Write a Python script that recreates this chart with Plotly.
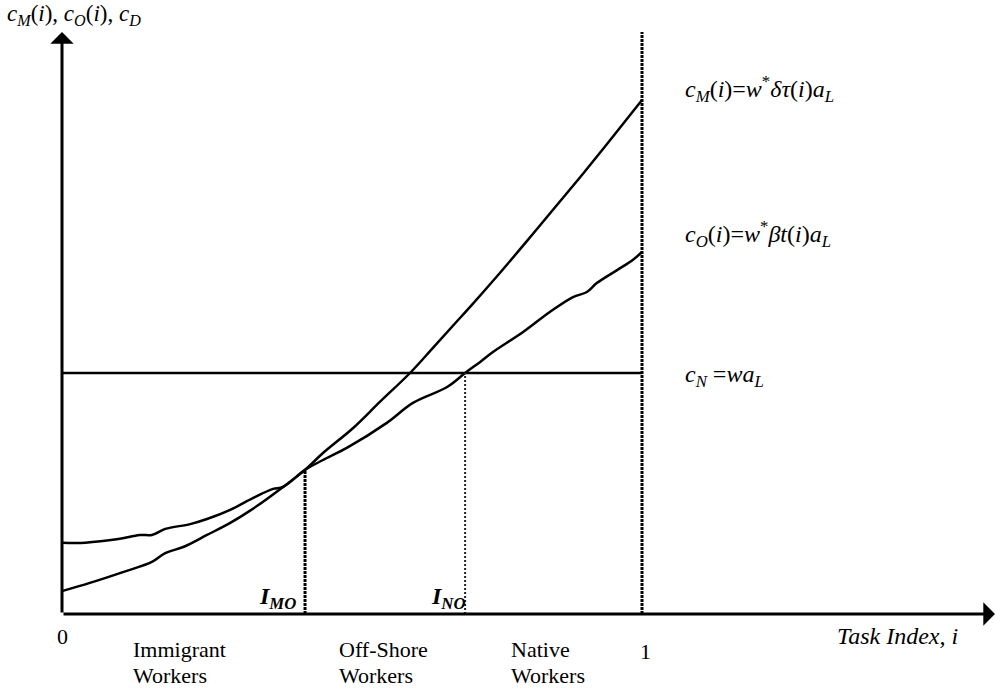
import plotly.graph_objects as go

# ---------------- data (task index i in [0,1], cost in units of c_N) ----------------
m_x = [0.0, 0.048, 0.105, 0.155, 0.178, 0.209, 0.25, 0.29, 0.336, 0.381, 0.419, 0.45,
       0.502, 0.548, 0.6, 0.638, 0.674, 0.709, 0.747, 0.8, 0.853, 0.9, 0.95, 1.0]
m_y = [0.095, 0.129, 0.174, 0.216, 0.253, 0.278, 0.328, 0.378, 0.448, 0.527, 0.598, 0.668,
       0.772, 0.880, 1.0, 1.100, 1.196, 1.289, 1.393, 1.543, 1.696, 1.832, 1.981, 2.133]

o_x = [0.0, 0.040, 0.097, 0.134, 0.155, 0.178, 0.221, 0.25, 0.29, 0.329, 0.364, 0.381,
       0.419, 0.45, 0.491, 0.56, 0.605, 0.664, 0.695, 0.721, 0.743, 0.795, 0.841, 0.881,
       0.905, 0.922, 0.957, 0.984, 1.0]
o_y = [0.296, 0.296, 0.311, 0.328, 0.328, 0.353, 0.373, 0.394, 0.432, 0.481, 0.519, 0.527,
       0.598, 0.639, 0.689, 0.793, 0.876, 0.942, 1.0, 1.046, 1.087, 1.170, 1.253, 1.315,
       1.336, 1.373, 1.427, 1.469, 1.502]

c_n = 1.0
i_mo = 0.419
c_mo = 0.598
i_no = 0.695
x_end = 1.0
x_axis_max = 1.6086
y_axis_max = 2.415

# ---------------- figure ----------------
W, H = 995, 696
X_RANGE = [-0.1069, 1.6086]
Y_RANGE = [-0.3402, 2.5477]
FONT = "Liberation Serif, Times New Roman, DejaVu Serif, serif"

fig = go.Figure()

line_black = dict(color="black", width=2.5)
fig.add_trace(go.Scatter(x=m_x, y=m_y, mode="lines", line=line_black, line_shape="spline",
                         hoverinfo="skip"))
fig.add_trace(go.Scatter(x=o_x, y=o_y, mode="lines", line=line_black, line_shape="spline",
                         hoverinfo="skip"))
fig.add_trace(go.Scatter(x=[0, x_end], y=[c_n, c_n], mode="lines", line=line_black,
                         hoverinfo="skip"))

# vertical dotted lines
fig.add_trace(go.Scatter(x=[i_mo, i_mo], y=[0, c_mo], mode="lines",
                         line=dict(color="black", width=3, dash="3px,1px"), hoverinfo="skip"))
fig.add_trace(go.Scatter(x=[i_no, i_no], y=[0, c_n], mode="lines",
                         line=dict(color="#222", width=2, dash="2px,2px"), hoverinfo="skip"))
fig.add_trace(go.Scatter(x=[x_end, x_end], y=[0, y_axis_max], mode="lines",
                         line=dict(color="black", width=3, dash="3px,1px"), hoverinfo="skip"))

annotations = []
# axes with arrows
annotations.append(dict(x=0, y=y_axis_max, ax=0, ay=0, xref="x", yref="y", axref="x", ayref="y",
                        text="", showarrow=True, arrowhead=1, arrowsize=1.3, arrowwidth=3,
                        arrowcolor="black", standoff=0, startstandoff=0))
annotations.append(dict(x=x_axis_max, y=0, ax=0, ay=0, xref="x", yref="y", axref="x", ayref="y",
                        text="", showarrow=True, arrowhead=1, arrowsize=1.3, arrowwidth=3,
                        arrowcolor="black", standoff=0, startstandoff=0))


def txt(px, py, text, size=22, xanchor="left"):
    annotations.append(dict(x=px / W, y=1 - py / H, xref="paper", yref="paper", text=text,
                            showarrow=False, xanchor=xanchor, yanchor="middle",
                            font=dict(family=FONT, size=size, color="black")))


txt(5, 15, "<i>c<sub>M</sub></i>(<i>i</i>), <i>c<sub>O</sub></i>(<i>i</i>), <i>c<sub>D</sub></i>", size=23)
txt(683, 89, "<i>c<sub>M</sub></i>(<i>i</i>)=<i>w</i><sup>*</sup><i>δτ</i>(<i>i</i>)<i>a<sub>L</sub></i>", size=24)
txt(683, 234, "<i>c<sub>O</sub></i>(<i>i</i>)=<i>w</i><sup>*</sup><i>βt</i>(<i>i</i>)<i>a<sub>L</sub></i>", size=24)
txt(683, 376, "<i>c<sub>N</sub></i> =<i>wa<sub>L</sub></i>", size=24)
txt(298, 598, "<b><i>I<sub>MO</sub></i></b>", size=24, xanchor="right")
txt(468, 598, "<b><i>I<sub>NO</sub></i></b>", size=24, xanchor="right")
txt(63, 636, "0", xanchor="center")
txt(645, 651, "1", xanchor="center")
txt(131, 649, "Immigrant")
txt(131, 675, "Workers")
txt(337, 649, "Off-Shore")
txt(337, 675, "Workers")
txt(509, 649, "Native")
txt(509, 675, "Workers")
txt(835, 636, "<i>Task Index, i</i>", size=24)

fig.update_layout(
    width=W, height=H, margin=dict(l=0, r=0, t=0, b=0),
    paper_bgcolor="white", plot_bgcolor="white", showlegend=False,
    xaxis=dict(range=X_RANGE, visible=False, fixedrange=True),
    yaxis=dict(range=Y_RANGE, visible=False, fixedrange=True),
    annotations=annotations,
)

fig.write_html("out.html", config={"displayModeBar": False},
               post_script="document.body.style.margin='0px';")
